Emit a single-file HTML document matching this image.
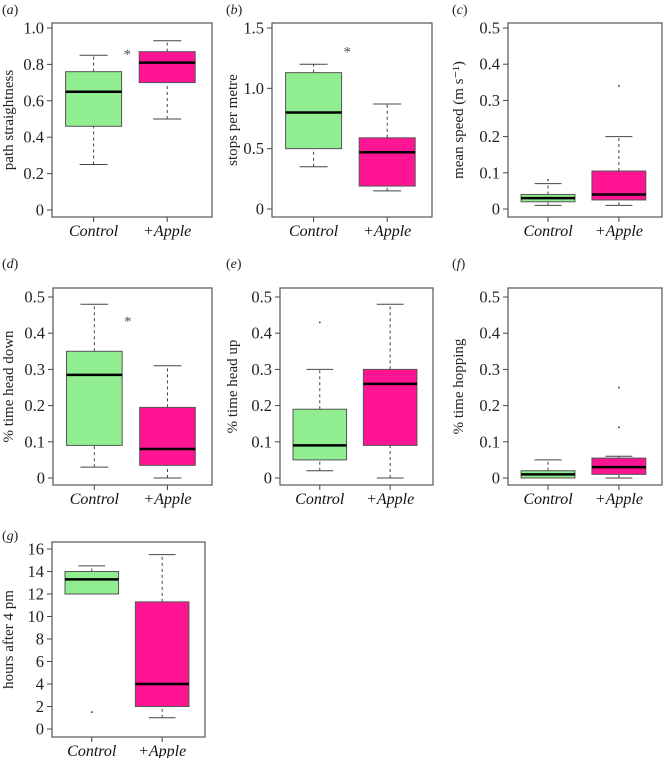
<!DOCTYPE html>
<html><head><meta charset="utf-8">
<style>
body{margin:0;background:#fff;}
svg{display:block;}
svg text{font-family:"Liberation Serif",serif;}
</style></head>
<body>
<svg id="fig" width="664" height="758" viewBox="0 0 664 758" xmlns="http://www.w3.org/2000/svg"></svg>
<script>
// ---- data ----
const groups = ["Control", "+Apple"];
const panelLetters = ["a","b","c","d","e","f","g"];
const yTitles = ["path straightness","stops per metre","mean speed (m s\u207B\u00B9)","% time head down","% time head up","% time hopping","hours after 4 pm"];
const yTicksA = [0,0.2,0.4,0.6,0.8,1.0];
const yTickLabelsA = ["0","0.2","0.4","0.6","0.8","1.0"];
const yTicksB = [0,0.5,1.0,1.5];
const yTickLabelsB = ["0","0.5","1.0","1.5"];
const yTicksSmall = [0,0.1,0.2,0.3,0.4,0.5];
const yTickLabelsSmall = ["0","0.1","0.2","0.3","0.4","0.5"];
const yTicksG = [0,2,4,6,8,10,12,14,16];
const yTickLabelsG = ["0","2","4","6","8","10","12","14","16"];
// [low whisker, q1, median, q3, high whisker] per group
const statsA = [[0.25,0.46,0.65,0.76,0.85],[0.50,0.70,0.81,0.87,0.93]];
const statsB = [[0.35,0.50,0.80,1.13,1.20],[0.15,0.19,0.47,0.59,0.87]];
const statsC = [[0.01,0.02,0.03,0.04,0.07],[0.01,0.025,0.04,0.105,0.20]];
const statsD = [[0.03,0.09,0.285,0.35,0.48],[0.0,0.035,0.08,0.195,0.31]];
const statsE = [[0.02,0.05,0.09,0.19,0.30],[0.0,0.09,0.26,0.30,0.48]];
const statsF = [[0.0,0.0,0.01,0.02,0.05],[0.0,0.01,0.03,0.055,0.06]];
const statsG = [[12.0,12.0,13.3,14.0,14.5],[1.0,2.0,4.0,11.3,15.5]];
const outliersC = [[0.08],[0.34]];
const outliersE = [[0.43],[]];
const outliersF = [[],[0.14,0.25]];
const outliersG = [[1.5],[]];
const noOut = [[],[]];
const starA = 0.88, starB = 1.34, starD = 0.445;

const colors = ["#90ee90","#ff1493"];
const svg = document.getElementById('fig');
const NS = "http://www.w3.org/2000/svg";
function mk(tag, attrs, parent){const e=document.createElementNS(NS,tag);for(const k in attrs)e.setAttribute(k,attrs[k]);(parent||svg).appendChild(e);return e;}

const panels = [
 {L:52,R:212,T:23,B:217,y0:210,y1:28,ticks:yTicksA,labels:yTickLabelsA,stats:statsA,out:noOut,star:starA,lx:2,ly:14},
 {L:272,R:432,T:23,B:217,y0:209,y1:28,ticks:yTicksB,labels:yTickLabelsB,stats:statsB,out:noOut,star:starB,lx:226,ly:14},
 {L:508,R:662,T:23,B:217,y0:209,y1:28,ticks:yTicksSmall,labels:yTickLabelsSmall,stats:statsC,out:outliersC,star:null,lx:452,ly:14},
 {L:53,R:212,T:288,B:485,y0:478,y1:297,ticks:yTicksSmall,labels:yTickLabelsSmall,stats:statsD,out:noOut,star:starD,lx:2,ly:268},
 {L:280,R:433,T:288,B:485,y0:478,y1:297,ticks:yTicksSmall,labels:yTickLabelsSmall,stats:statsE,out:outliersE,star:null,lx:226,ly:268},
 {L:508,R:662,T:288,B:485,y0:478,y1:297,ticks:yTicksSmall,labels:yTickLabelsSmall,stats:statsF,out:outliersF,star:null,lx:452,ly:268},
 {L:52,R:205,T:542,B:737,y0:729,y1:549,ticks:yTicksG,labels:yTickLabelsG,stats:statsG,out:outliersG,star:null,lx:2,ly:540}
];

panels.forEach((p,i)=>{
  const g = mk('g',{});
  
  
  const tmin=p.ticks[0], tmax=p.ticks[p.ticks.length-1];
  const y = v => p.y0 + (v-tmin)/(tmax-tmin)*(p.y1-p.y0);
  const w = p.R-p.L;
  const cx = k => p.L + w*(k===0?0.26:0.72);
  const hw = w*0.175;
  const pl = mk('text',{x:p.lx,y:p.ly,'font-size':14,fill:'#222'},g);
  pl.innerHTML = '(<tspan font-style="italic">'+panelLetters[i]+'</tspan>)';
  
  
  // y ticks
  const ax = p.L;
  p.ticks.forEach((t,j)=>{
    mk('line',{x1:ax-5,x2:ax,y1:y(t),y2:y(t),stroke:'#444','stroke-width':1},g);
    const tl = mk('text',{x:ax-8,y:y(t)+5.5,'font-size':16.5,'text-anchor':'end',fill:'#222'},g);
    tl.textContent = p.labels[j];
    
    
  });
  const ty = (p.T+p.B)/2;
  const tx = p.lx+11;
  const yt = mk('text',{x:tx,y:ty,'font-size':15,'text-anchor':'middle',transform:`rotate(-90 ${tx} ${ty})`,fill:'#222'},g);
  yt.textContent = yTitles[i];
  
  
  // x ticks
  groups.forEach((gr,k)=>{
    mk('line',{x1:cx(k),x2:cx(k),y1:p.B,y2:p.B+5,stroke:'#444','stroke-width':1},g);
    const xl = mk('text',{x:cx(k),y:p.B+19,'font-size':16,'font-style':'italic','text-anchor':'middle',fill:'#111'},g);
    xl.textContent = gr;
    
    
  });
  p.stats.forEach((s,k)=>{
    const c=cx(k);
    mk('line',{x1:c,x2:c,y1:y(s[0]),y2:y(s[1]),stroke:'#444','stroke-dasharray':'3,3'},g);
    mk('line',{x1:c,x2:c,y1:y(s[3]),y2:y(s[4]),stroke:'#444','stroke-dasharray':'3,3'},g);
    mk('line',{x1:c-hw/2,x2:c+hw/2,y1:y(s[0]),y2:y(s[0]),stroke:'#444'},g);
    mk('line',{x1:c-hw/2,x2:c+hw/2,y1:y(s[4]),y2:y(s[4]),stroke:'#444'},g);
    const b = mk('rect',{x:c-hw,y:y(s[3]),width:2*hw,height:Math.max(1,y(s[1])-y(s[3])),fill:colors[k],stroke:'#555','stroke-width':1},g);
    
    
    mk('line',{x1:c-hw,x2:c+hw,y1:y(s[2]),y2:y(s[2]),stroke:'#000','stroke-width':2.5},g);
    p.out[k].forEach(o=>{
      const pt = mk('circle',{cx:c,cy:y(o),r:1,fill:'#555'},g);
      
      
    });
  });
  if(p.star!==null){
    const st = mk('text',{x:p.L+w*0.47,y:y(p.star)+9,'font-size':15,'text-anchor':'middle',fill:'#555'},g);
    st.textContent='*';
    
    
  }
  mk('rect',{x:p.L,y:p.T,width:w,height:p.B-p.T,fill:'none',stroke:'#555','stroke-width':1.2},g);
});
</script>
</body></html>
